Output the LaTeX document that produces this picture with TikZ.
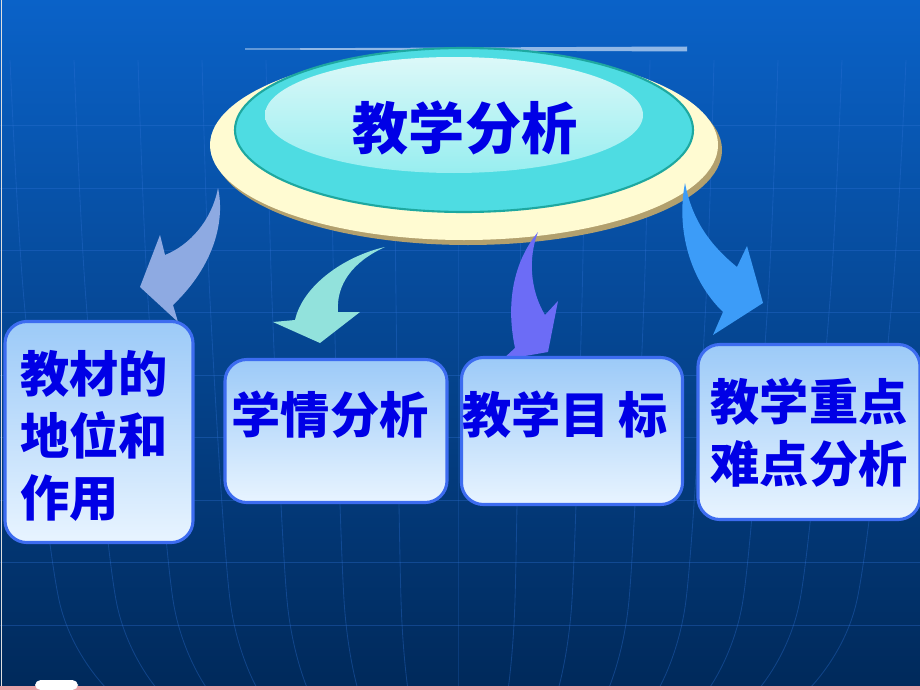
\documentclass[tikz,border=0pt]{standalone}
\usepackage{fontspec}
\newfontfamily\cjk{Noto Sans CJK SC}
\definecolor{bgtop}{HTML}{0A62C8}
\definecolor{bgmid}{HTML}{064A9E}
\definecolor{bgbot}{HTML}{00295A}
\definecolor{gridline}{HTML}{2F72D6}
\definecolor{cream}{HTML}{FFFBD2}
\definecolor{creamshadow}{HTML}{B2A06E}
\definecolor{teal}{HTML}{1EA8A0}
\definecolor{cyanring}{HTML}{4EDCE2}
\definecolor{palecyan}{HTML}{DCF8F8}
\definecolor{midcyan}{HTML}{98EEF0}
\definecolor{textblue}{HTML}{0000E6}
\definecolor{boxedge}{HTML}{3D6CF0}
\definecolor{boxtop}{HTML}{9CCAF8}
\definecolor{boxbot}{HTML}{E8F4FF}
\definecolor{arrowa}{HTML}{8EAAE2}
\definecolor{arrowb}{HTML}{92E2DC}
\definecolor{arrowc}{HTML}{6C6CF6}
\definecolor{arrowd}{HTML}{3C9CF8}
\definecolor{pinkstrip}{HTML}{E8A2A8}
\begin{document}
\begin{tikzpicture}[x=0.025cm,y=-0.025cm,
    box/.style={draw=boxedge,line width=2.2pt,rounded corners=0.55cm,
        top color=boxtop,bottom color=boxbot,inner sep=0pt},
    label/.style={font=\cjk\bfseries\fontsize{35}{44}\selectfont,text=textblue,inner sep=0pt}]
    \useasboundingbox (0,0) rectangle (920,690);
    % Background %
    \shade[top color=bgtop,middle color=bgmid,bottom color=bgbot] (0,0) rectangle (920,690);
    \foreach \y in {125,188,250,312,375,437,500,562,625}
        \draw[gridline,opacity=0.35,line width=0.6pt] (0,\y) -- (920,\y);
    \foreach \k in {-7,...,7}
        \draw[gridline,opacity=0.35,line width=0.6pt] plot[smooth] coordinates
            {(458+64*\k,60) (458+62*\k,300) (458+57*\k,600) (458+50*\k,690)};
    \draw[white!75!gray,line width=1pt] (1.5,0) -- (1.5,686);
    \fill[pinkstrip] (0,686) rectangle (920,690);
    \fill[white,rounded corners=4pt] (35,680) rectangle (78,690);

    % Top ellipse %
    \fill[white!55!bgtop] (245,48.5) -- (687,46.5) -- (687,51.5) -- (245,49.5) -- cycle;
    \fill[creamshadow] (468,150) ellipse [x radius=254,y radius=95];
    \fill[cream] (464,145) ellipse [x radius=254,y radius=95];
    \filldraw[fill=cyanring,draw=teal,line width=1.5pt] (464,130) ellipse [x radius=229,y radius=82];
    \shade[top color=palecyan,bottom color=midcyan] (454,115) ellipse [x radius=189,y radius=58];
    \node[label,font=\cjk\bfseries\fontsize{40}{48}\selectfont] (title) at (465,128) {教学分析};

    % Arrows %
    \fill[arrowa] (218,188) .. controls (225,220) and (215,265) .. (173,305) -- (178,322)
        -- (140,287) -- (160,235) -- (165,255) .. controls (190,245) and (212,220) .. cycle;
    \fill[arrowb] (385,247) .. controls (345,256) and (303,285) .. (295,320) -- (273,322)
        -- (320,343) -- (360,312) -- (338,312) .. controls (336,285) and (352,262) .. cycle;
    \fill[arrowc] (538,232) .. controls (515,260) and (505,300) .. (515,348) -- (502,360)
        -- (548,352) -- (558,301) -- (545,315) .. controls (530,290) and (528,258) .. cycle;
    \fill[arrowd] (685,183) .. controls (676,230) and (690,280) .. (723,312) -- (713,335)
        -- (763,303) -- (747,246) -- (737,267) .. controls (710,245) and (692,220) .. cycle;

    % Boxes %
    \node[box,minimum width=4.7cm,minimum height=5.525cm] (role) at (99,432) {};
    \node[box,minimum width=5.55cm,minimum height=3.575cm] (learners) at (336,431) {};
    \node[box,minimum width=5.525cm,minimum height=3.675cm] (goals) at (572,431) {};
    \node[box,minimum width=5.55cm,minimum height=4.375cm] (keypoints) at (809,432) {};

    \node[label,anchor=west,align=left] (roletext) at (20,436) {教材的\\地位和\\作用};
    \node[label] (learnerstext) at (330,415) {学情分析};
    \node[label] (goalstext) at (565,415) {教学目\,标};
    \node[label,align=center] (keytext) at (809,433) {教学重点\\难点分析};
\end{tikzpicture}
\end{document}
